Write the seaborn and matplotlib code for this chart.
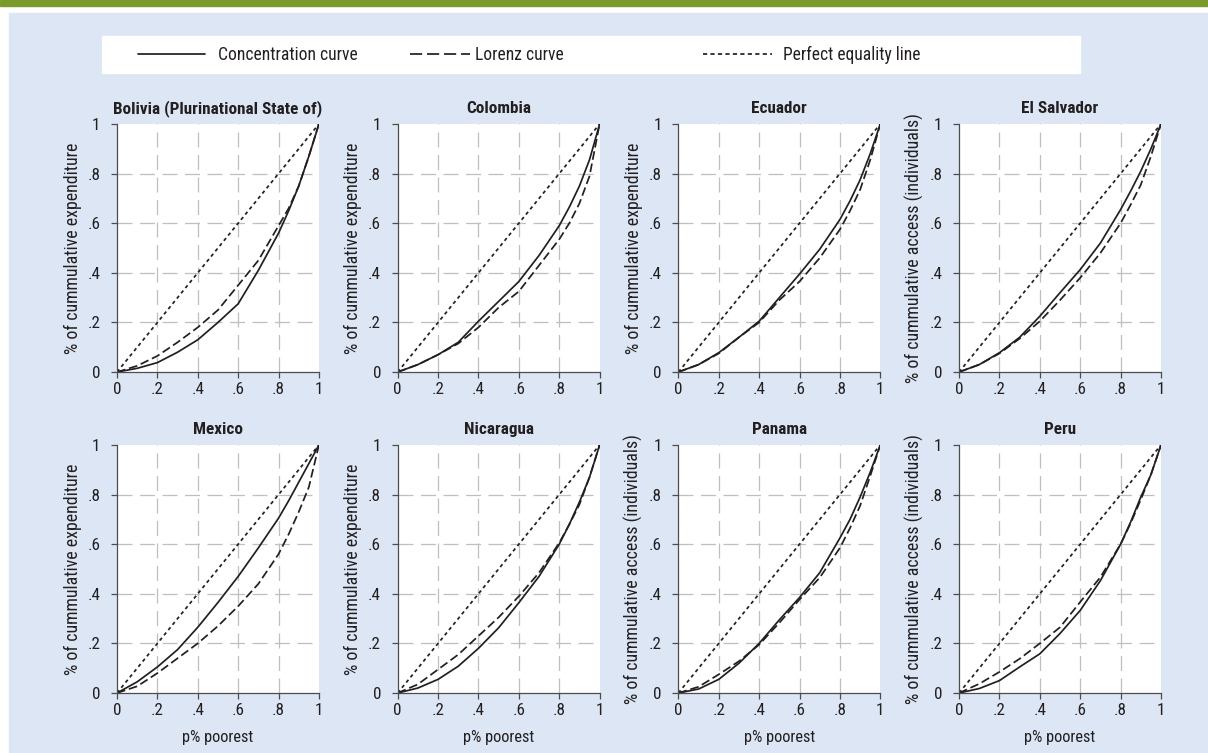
import matplotlib
matplotlib.use("Agg")
import pandas as pd
import matplotlib.pyplot as plt
import seaborn as sns
from matplotlib import font_manager
from matplotlib.lines import Line2D
from matplotlib.patches import Rectangle

# share of population, poorest first
p_share = [0, .1, .2, .3, .4, .5, .6, .7, .8, .85, .9, .95, 1]

bolivia_conc = [0, .015, .038, .08, .13, .2, .275, .41, .56, .65, .75, .87, 1]
bolivia_lorenz = [0, .025, .065, .12, .18, .25, .35, .45, .59, .66, .75, .87, 1]
colombia_conc = [0, .03, .07, .12, .205, .285, .365, .47, .59, .665, .75, .856, 1]
colombia_lorenz = [0, .03, .07, .115, .18, .26, .325, .43, .535, .60, .68, .79, 1]
ecuador_conc = [0, .03, .078, .14, .205, .3, .395, .495, .615, .69, .775, .88, 1]
ecuador_lorenz = [0, .03, .075, .14, .2, .29, .365, .46, .575, .65, .735, .855, 1]
salvador_conc = [0, .03, .078, .14, .225, .32, .413, .52, .655, .73, .81, .9, 1]
salvador_lorenz = [0, .03, .075, .135, .205, .29, .38, .48, .6, .675, .755, .87, 1]
mexico_conc = [0, .045, .105, .175, .265, .365, .47, .585, .705, .775, .85, .925, 1]
mexico_lorenz = [0, .027, .08, .14, .2, .27, .35, .44, .56, .64, .73, .83, 1]
nicaragua_conc = [0, .02, .055, .108, .18, .263, .364, .47, .6, .68, .77, .87, 1]
nicaragua_lorenz = [0, .035, .095, .155, .23, .305, .39, .485, .605, .68, .76, .87, 1]
panama_conc = [0, .016, .055, .12, .2, .295, .385, .485, .625, .70, .79, .89, 1]
panama_lorenz = [0, .025, .075, .128, .195, .283, .377, .465, .585, .665, .755, .875, 1]
peru_conc = [0, .018, .05, .105, .158, .24, .333, .453, .6, .69, .79, .88, 1]
peru_lorenz = [0, .037, .085, .138, .2, .265, .367, .467, .6, .685, .78, .88, 1]

equality_x = [0, 1]
equality_y = [0, 1]

countries = ["Bolivia (Plurinational State of)", "Colombia", "Ecuador", "El Salvador",
             "Mexico", "Nicaragua", "Panama", "Peru"]
conc_curves = [bolivia_conc, colombia_conc, ecuador_conc, salvador_conc,
               mexico_conc, nicaragua_conc, panama_conc, peru_conc]
lorenz_curves = [bolivia_lorenz, colombia_lorenz, ecuador_lorenz, salvador_lorenz,
                 mexico_lorenz, nicaragua_lorenz, panama_lorenz, peru_lorenz]

ylab_exp = "% of cummulative expenditure"
ylab_acc = "% of cummulative access (individuals)"
ylabels = [ylab_exp, ylab_exp, ylab_exp, ylab_acc, ylab_exp, ylab_exp, ylab_acc, ylab_acc]

tick_vals = [0, .2, .4, .6, .8, 1]
tick_labels = ["0", ".2", ".4", ".6", ".8", "1"]

# long-form table for seaborn
rows = []
for name, conc, lor in zip(countries, conc_curves, lorenz_curves):
    for p, c, l in zip(p_share, conc, lor):
        rows.append((name, "Concentration curve", p, c))
        rows.append((name, "Lorenz curve", p, l))
    for p, e in zip(equality_x, equality_y):
        rows.append((name, "Perfect equality line", p, e))
df = pd.DataFrame(rows, columns=["country", "curve", "p", "share"])

ink = "#231F20"
axis_col = "#4D4D4D"
grid_col = "#BFBFBF"
dash_map = {"Concentration curve": "", "Lorenz curve": (5, 2.2), "Perfect equality line": (2, 1.9)}

# pick a condensed sans if one is around, else Liberation Sans
have = {f.name for f in font_manager.fontManager.ttflist}
narrow = [n for n in ["Roboto Condensed", "Archivo Narrow", "PT Sans Narrow",
                      "Liberation Sans Narrow", "Pragati Narrow"] if n in have]
if narrow:
    base_font, k = narrow[0], 1.12
else:
    base_font, k = "Liberation Sans", 1.0

sns.set_style("white")
plt.rcParams["font.family"] = [base_font, "DejaVu Sans"]
plt.rcParams["text.color"] = ink

W, H = 1208, 753
fig, axes = plt.subplots(2, 4, figsize=(W / 100, H / 100), dpi=100)
fig.subplots_adjust(left=117 / W, right=1161 / W, top=1 - 124 / H, bottom=1 - 693 / H,
                    wspace=0.39, hspace=0.294)
fig.patch.set_facecolor("white")

# header band + panel background + legend box
fig.add_artist(Rectangle((0, 1 - 6 / H), 1, 6 / H, transform=fig.transFigure,
                         color="#7A9A2B", zorder=-10))
fig.add_artist(Rectangle((9 / W, 0), 1, 1 - 13 / H, transform=fig.transFigure,
                         color="#DCE6F4", zorder=-10))
fig.add_artist(Rectangle((102 / W, 1 - 73 / H), 978 / W, 37 / H, transform=fig.transFigure,
                         color="white", zorder=-9))

for i, ax in enumerate(axes.flat):
    name = countries[i]
    sub = df[df["country"] == name]
    ax.set_facecolor("white")
    for v in [.2, .4, .6, .8]:
        ax.axhline(v, color=grid_col, lw=0.9, ls=(0, (12, 6)), zorder=0.5)
        ax.axvline(v, color=grid_col, lw=0.9, ls=(0, (12, 6)), zorder=0.5)
    sns.lineplot(data=sub, x="p", y="share", style="curve", dashes=dash_map,
                 color=ink, lw=1.25, estimator=None, legend=False, ax=ax)
    ax.set_xlim(0, 1)
    ax.set_ylim(0, 1)
    ax.set_xticks(tick_vals)
    ax.set_xticklabels(tick_labels)
    ax.set_yticks(tick_vals)
    ax.set_yticklabels(tick_labels)
    ax.tick_params(bottom=True, left=True, direction="out", length=4, width=0.9,
                   color=axis_col, labelcolor=ink, labelsize=11 * k)
    ax.tick_params(axis="y", pad=8)
    for s in ["top", "right"]:
        ax.spines[s].set_visible(False)
    for s in ["left", "bottom"]:
        ax.spines[s].set_color(axis_col)
        ax.spines[s].set_linewidth(0.9)
    ax.set_title(name, fontsize=11 * k, fontweight="bold", color=ink, pad=8)
    ax.set_ylabel(ylabels[i], fontsize=11.5 * k, color=ink)
    if i >= 4:
        ax.set_xlabel("p% poorest", fontsize=10.5 * k, color=ink, labelpad=8)
    else:
        ax.set_xlabel("")

# legend, one entry per slot; handle sizes given in pixels
leg_size = 11.3 * k
em = leg_size * 100 / 72
leg_items = [
    ("Concentration curve", "-", 138, 67, 13),
    ("Lorenz curve", (0, (7, 2.8)), 410, 60, 5),
    ("Perfect equality line", (0, (2.4, 1.9)), 703, 69, 11),
]
for label, ls, x0, hl_px, pad_px in leg_items:
    h = Line2D([], [], color=ink, lw=1.25, ls=ls)
    fig.legend(handles=[h], labels=[label], loc="center left",
               bbox_to_anchor=(x0 / W, 1 - 55 / H), frameon=False, fontsize=leg_size,
               handlelength=hl_px / em, handletextpad=pad_px / em, borderpad=0,
               borderaxespad=0, labelcolor=ink)

fig.savefig("out.png", dpi=100, facecolor="white")
